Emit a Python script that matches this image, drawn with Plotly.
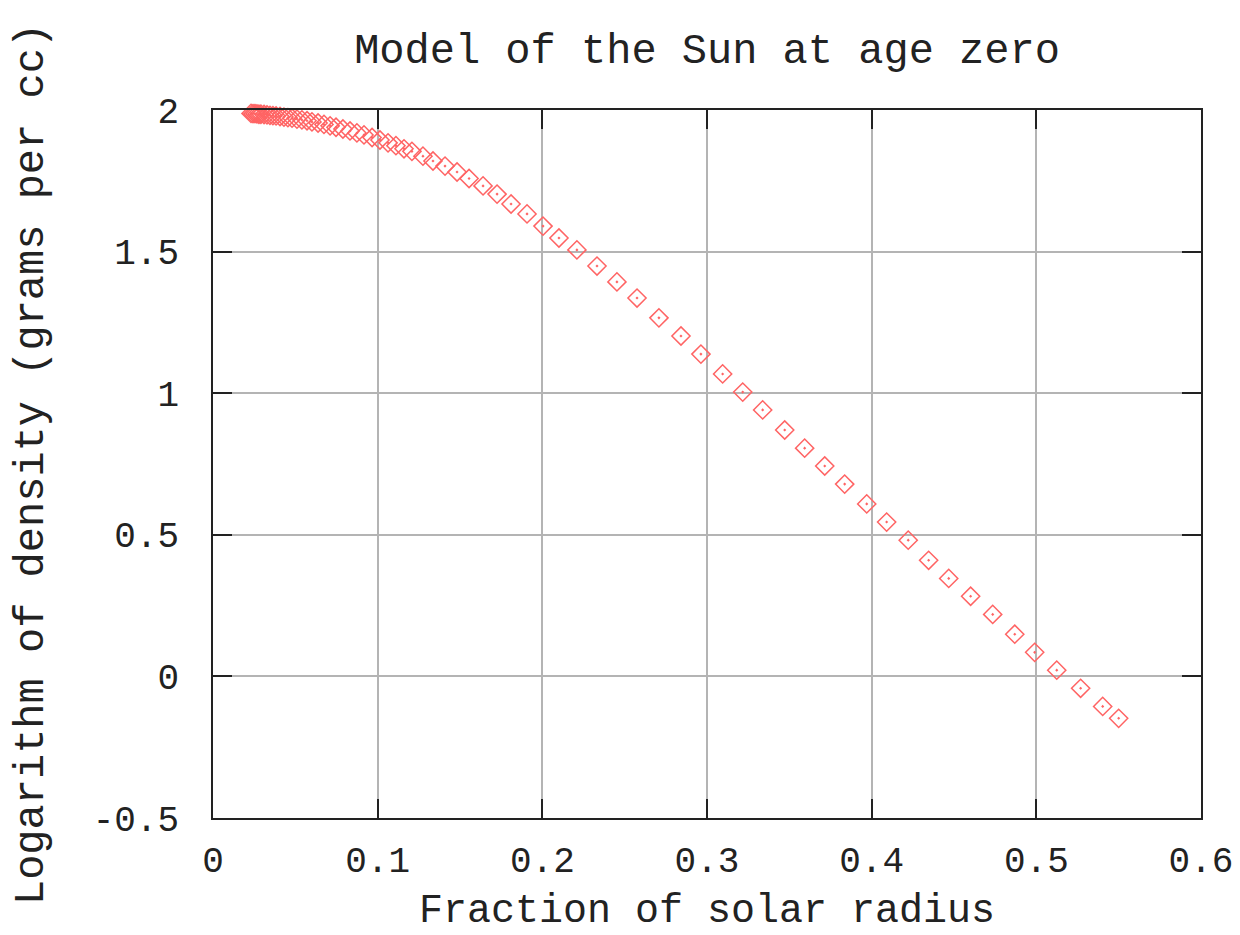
import plotly.graph_objects as go

radius = [0.0231, 0.0243, 0.0255, 0.0267, 0.0279, 0.0291, 0.0310, 0.0328, 0.0346, 0.0364,
          0.0383, 0.0407, 0.0431, 0.0455, 0.0480, 0.0510, 0.0540, 0.0571, 0.0601, 0.0638,
          0.0674, 0.0711, 0.0747, 0.0789, 0.0832, 0.0874, 0.0917, 0.0966, 0.1014, 0.1063,
          0.1111, 0.1160,
          0.1208, 0.1275, 0.1336, 0.1409, 0.1482, 0.1555, 0.1640, 0.1725, 0.1810, 0.1907,
          0.2004, 0.2101, 0.2210, 0.2332, 0.2453, 0.2575, 0.2708, 0.2842, 0.2963, 0.3095,
          0.3217, 0.3338, 0.3472, 0.3593, 0.3715, 0.3836, 0.3970, 0.4091, 0.4222, 0.4346,
          0.4468, 0.4601, 0.4735, 0.4869, 0.4990, 0.5124, 0.5269, 0.5403, 0.5500]

log_density = [1.988, 1.987, 1.987, 1.986, 1.985, 1.985, 1.984, 1.983, 1.981, 1.980,
               1.979, 1.977, 1.975, 1.973, 1.971, 1.968, 1.965, 1.962, 1.958, 1.954,
               1.949, 1.944, 1.939, 1.933, 1.926, 1.919, 1.912, 1.903, 1.894, 1.884,
               1.874, 1.863,
               1.854, 1.837, 1.820, 1.802, 1.781, 1.758, 1.732, 1.703, 1.668, 1.633,
               1.590, 1.548, 1.506, 1.449, 1.393, 1.336, 1.266, 1.202, 1.138, 1.068,
               1.004, 0.941, 0.870, 0.806, 0.743, 0.679, 0.609, 0.545, 0.481, 0.410,
               0.346, 0.283, 0.219, 0.149, 0.085, 0.022, -0.042, -0.106, -0.148]

x_ticks = [0, 0.1, 0.2, 0.3, 0.4, 0.5, 0.6]
x_tick_labels = ["0", "0.1", "0.2", "0.3", "0.4", "0.5", "0.6"]
y_ticks = [-0.5, 0, 0.5, 1, 1.5, 2]
y_tick_labels = ["-0.5", "0", "0.5", "1", "1.5", "2"]

FONT = "Liberation Mono"
RED = "#ff6464"
INK = "#222222"

fig = go.Figure()
fig.add_trace(go.Scatter(
    x=radius, y=log_density, mode="markers",
    marker=dict(symbol="diamond-open-dot", size=14, color=RED,
                line=dict(color=RED, width=1.5)),
    cliponaxis=False, showlegend=False,
))

axis_common = dict(
    showline=True, linecolor=INK, linewidth=1.5, mirror="ticks",
    ticks="inside", ticklen=19, tickcolor=INK, tickwidth=1.5,
    showgrid=True, gridcolor="#b4b4b4", gridwidth=1.5,
    zeroline=False, automargin=False,
    tickfont=dict(family=FONT, size=36, color=INK),
)

fig.update_layout(
    width=1240, height=935,
    paper_bgcolor="white", plot_bgcolor="white",
    margin=dict(l=205, r=47, t=102, b=125),
    title=dict(text="Model of the Sun at age zero",
               font=dict(family=FONT, size=42, color=INK),
               x=0.5, xanchor="center", xref="paper",
               y=1 - 40 / 935, yanchor="middle", yref="container",
               automargin=False),
    xaxis=dict(range=[0, 0.6], tickvals=x_ticks, ticktext=x_tick_labels,
               ticklabelstandoff=9,
               title=dict(text="Fraction of solar radius",
                          font=dict(family=FONT, size=40, color=INK),
                          standoff=12),
               **axis_common),
    yaxis=dict(range=[-0.5, 2], tickvals=y_ticks, ticktext=y_tick_labels,
               ticklabelstandoff=25,
               title=dict(text="Logarithm of density (grams per cc)",
                          font=dict(family=FONT, size=42, color=INK),
                          standoff=36),
               **axis_common),
)

fig.write_html("out.html")
